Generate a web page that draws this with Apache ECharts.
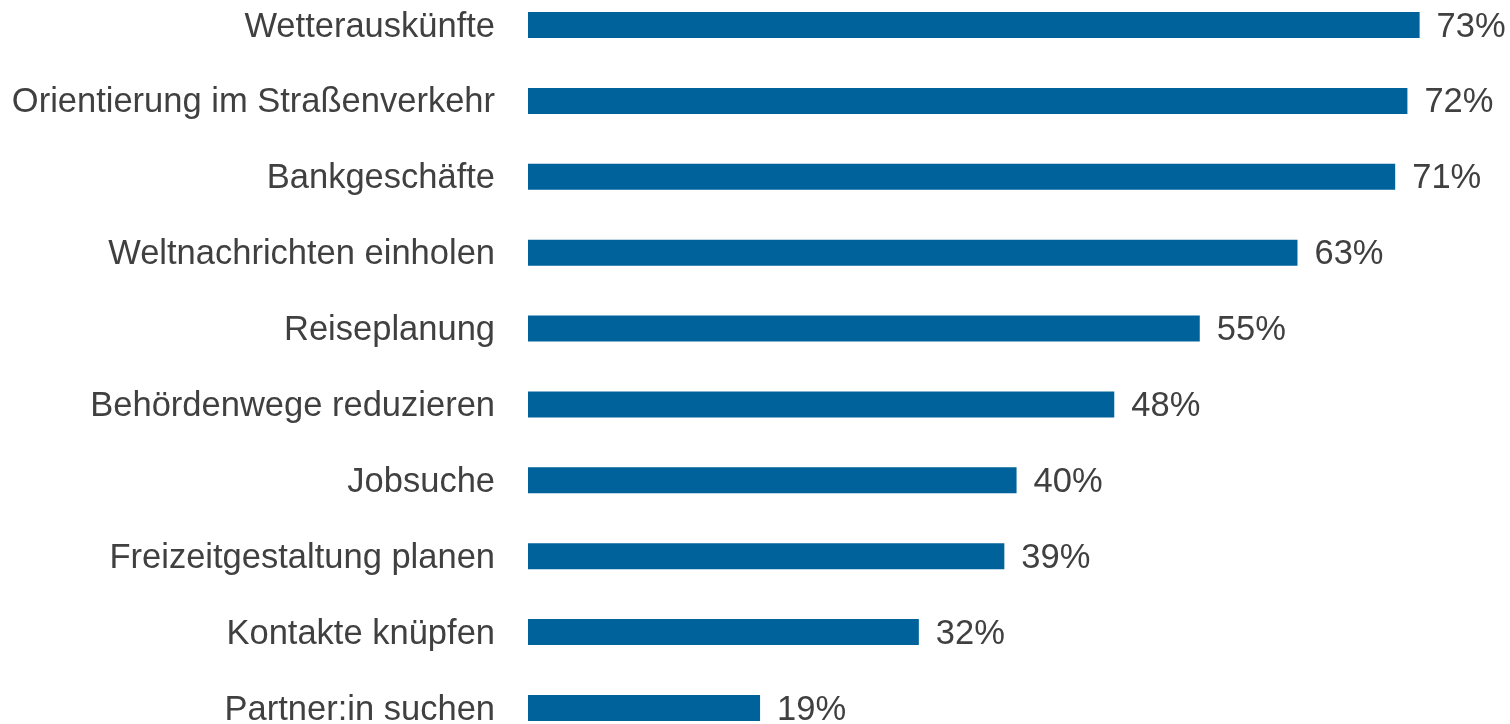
<!DOCTYPE html>
<html>
<head>
<meta charset="utf-8">
<script src="https://cdn.jsdelivr.net/npm/echarts@6/dist/echarts.min.js"></script>
<style>
  html, body { margin: 0; padding: 0; background: #ffffff; }
  #chart { width: 1510px; height: 724px; }
</style>
</head>
<body>
<div id="chart"></div>
<script>
// Usage purposes, listed top to bottom
const categories = [
  'Wetterauskünfte',
  'Orientierung im Straßenverkehr',
  'Bankgeschäfte',
  'Weltnachrichten einholen',
  'Reiseplanung',
  'Behördenwege reduzieren',
  'Jobsuche',
  'Freizeitgestaltung planen',
  'Kontakte knüpfen',
  'Partner:in suchen'
];
// Share of respondents in percent
const values = [73, 72, 71, 63, 55, 48, 40, 39, 32, 19];

const chart = echarts.init(document.getElementById('chart'), null, { renderer: 'canvas' });

const textColor = '#404040';
const fontFamily = '"Liberation Sans", Arial, sans-serif';

// Text block style: a little top padding nudges the glyphs down onto the bar centre
const labelText = {
  color: textColor,
  fontSize: 34.5,
  fontFamily: fontFamily,
  padding: [4, 0, 0, 0]
};

chart.setOption({
  animation: false,
  backgroundColor: '#ffffff',
  // Category ticks sit on the grid edges (boundaryGap off), so the first and
  // last rows line up with the top and bottom of this rectangle.
  grid: {
    left: 528, right: 0, top: 25, bottom: 16,
    containLabel: false,
    outerBoundsMode: 'none'
  },
  xAxis: {
    type: 'value',
    min: 0,
    max: 80.4,
    show: false
  },
  yAxis: {
    type: 'category',
    inverse: true,
    boundaryGap: false,
    data: categories,
    axisLine: { show: false },
    axisTick: { show: false },
    splitLine: { show: false },
    axisLabel: {
      margin: 33,
      formatter: v => '{t|' + v + '}',
      rich: { t: labelText }
    }
  },
  series: [{
    type: 'bar',
    data: values,
    barWidth: 26,
    clip: false,
    itemStyle: { color: '#00629A' },
    label: {
      show: true,
      position: 'right',
      distance: 17,
      formatter: p => '{t|' + p.value + '%}',
      rich: { t: labelText }
    }
  }]
});
</script>
</body>
</html>
